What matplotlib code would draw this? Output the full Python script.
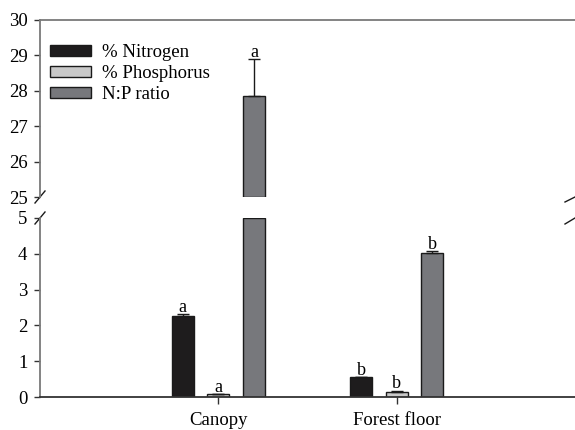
import matplotlib
matplotlib.use("Agg")
import matplotlib.pyplot as plt
import numpy as np

# values
categories = ["Canopy", "Forest floor"]
series = ["% Nitrogen", "% Phosphorus", "N:P ratio"]
nitrogen = [2.26, 0.55]
nitrogen_err = [0.06, 0.02]
phosphorus = [0.07, 0.15]
phosphorus_err = [0.02, 0.03]
np_ratio = [27.85, 4.03]
np_ratio_err = [1.04, 0.05]
letters = [["a", "b"], ["a", "b"], ["a", "b"]]

colors = ["#1e1c1d", "#c9c9c9", "#77787c"]
values = [nitrogen, phosphorus, np_ratio]
errors = [nitrogen_err, phosphorus_err, np_ratio_err]

top_lim = (25, 30)
bot_lim = (0, 5)

plt.rcParams["font.family"] = ["Liberation Serif", "DejaVu Serif"]
plt.rcParams["font.size"] = 13

W, H = 575, 430
fig = plt.figure(figsize=(W / 100, H / 100), dpi=100)
ax_top = fig.add_axes([40 / W, 1 - 197 / H, 535 / W, 177 / H])
ax_bot = fig.add_axes([40 / W, 1 - 397 / H, 535 / W, 179 / H])

x = np.arange(1, len(categories) + 1)
offsets = [-0.2, 0.0, 0.2]
width = 0.124

for i in range(3):
    v = np.array(values[i])
    e = np.array(errors[i])
    xs = x + offsets[i]
    # bottom panel, bar cut at the top limit
    ax_bot.bar(xs, np.minimum(v, bot_lim[1]), width, color=colors[i],
               edgecolor="#1a1a1a", linewidth=1.0, label=series[i])
    # top panel, only the part above the break
    big = v > top_lim[0]
    ax_top.bar(xs[big], v[big] - top_lim[0], width, bottom=top_lim[0],
               color=colors[i], edgecolor="#1a1a1a", linewidth=1.0)
    for j in range(len(categories)):
        ax = ax_top if v[j] > top_lim[0] else ax_bot
        ax.errorbar(xs[j], v[j], yerr=[[0], [e[j]]], fmt="none",
                    ecolor="#1a1a1a", elinewidth=1.0, capsize=4.5,
                    capthick=1.0)
        ax.annotate(letters[i][j], (xs[j], v[j] + e[j]), xytext=(0, 1.5),
                    textcoords="offset points", ha="center", va="baseline",
                    fontsize=13)

for ax in (ax_top, ax_bot):
    ax.set_xlim(0, 3)
    ax.spines["right"].set_visible(False)
    ax.spines["left"].set_color("#7a7a7a")
    ax.spines["left"].set_linewidth(1.3)
    ax.tick_params(axis="y", direction="out", length=4, width=1.0,
                   color="#333333", pad=5, labelsize=13.5)

ax_top.set_ylim(*top_lim)
ax_top.set_yticks(np.arange(top_lim[0], top_lim[1] + 1))
ax_top.spines["bottom"].set_visible(False)
ax_top.spines["top"].set_color("#7a7a7a")
ax_top.spines["top"].set_linewidth(1.3)
ax_top.set_xticks([])

ax_bot.set_ylim(*bot_lim)
ax_bot.set_yticks(np.arange(bot_lim[0], bot_lim[1] + 1))
ax_bot.spines["top"].set_visible(False)
ax_bot.spines["bottom"].set_color("#333333")
ax_bot.spines["bottom"].set_linewidth(1.3)
ax_bot.set_xticks(x)
ax_bot.set_xticklabels(categories, fontsize=13.5)
ax_bot.tick_params(axis="x", direction="out", length=5, width=1.0,
                   color="#333333", pad=6)

# break marks (sizes in pixels turned into axes fractions)
kw = dict(color="#1a1a1a", linewidth=1.0, clip_on=False)
hw, hh = 5 / 535, 6
ax_top.plot([-hw, hw], [-hh / 177, hh / 177], transform=ax_top.transAxes, **kw)
ax_bot.plot([-hw, hw], [1 - hh / 179, 1 + hh / 179], transform=ax_bot.transAxes, **kw)
ax_top.plot([1 - 2 * hw, 1], [-5 / 177, 0.0], transform=ax_top.transAxes, **kw)
ax_bot.plot([1 - 2 * hw, 1], [1 - 6 / 179, 1.0], transform=ax_bot.transAxes, **kw)

handles, labels = ax_bot.get_legend_handles_labels()
ax_top.legend(handles, labels, loc="upper left",
              bbox_to_anchor=(0.005, 0.905), frameon=False,
              handlelength=2.2, handleheight=0.55, handletextpad=0.55,
              labelspacing=0.2, borderaxespad=0.0, fontsize=13.5)

fig.savefig("out.png", dpi=100)
